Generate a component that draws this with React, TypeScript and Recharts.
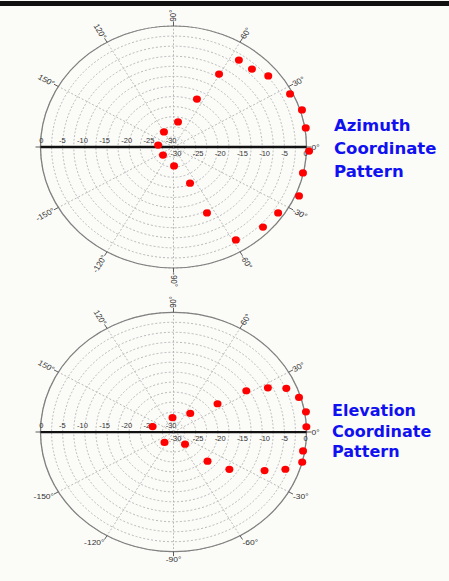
import { RadarChart, Radar, PolarGrid, PolarAngleAxis, PolarRadiusAxis } from "recharts";

// azimuth pattern: angle in degrees (0 = right, counter-clockwise), level in dB
const AZ_ANGLE = [55.6, 47.5, 39.5, 60.4, 26.6, 17.6, 9, -1.9, -12.4, -23.2, -34.7, -44.5, -58.6, -65.2, -67.4, -88.5, -140, 172, 120, 80.7, 66];
const AZ_DB = [-3.9, -3.8, -2.3, -9.2, -0.6, 0.4, 0.2, 0.6, -0.1, 0.8, -1.3, -1.7, -3.0, -12.0, -20.3, -25.3, -26.9, -26.5, -25.7, -23.7, -17.0];

// elevation pattern
const EL_ANGLE = [32.2, 27.5, 23.3, 17, 9.6, 2.5, -9.2, -14.6, -20.3, -25.2, -36.6, -43.6, -49.5, -128, 164, 93.6, 51, 35.5];
const EL_DB = [-10.6, -6.0, -2.3, -0.4, 0.3, 0, -0.4, 0, -3.1, -7.3, -14.3, -19.4, -26.0, -26.7, -25.1, -26.4, -24.0, -17.8];

// rings every 2.5 dB, labels on the 5 dB ones
const DB_TICKS = [-30, -27.5, -25, -22.5, -20, -17.5, -15, -12.5, -10, -7.5, -5, -2.5, 0];
const ANGLE_TICKS = [-180, -150, -120, -90, -60, -30, 0, 30, 60, 90, 120, 150, 180];
const DB_DOMAIN = [-30, 0];
const ANGLE_DOMAIN = [-180, 180];

const azData = AZ_ANGLE.map((a, i) => ({ angle: a, db: AZ_DB[i] }));
const elData = EL_ANGLE.map((a, i) => ({ angle: a, db: EL_DB[i] }));

const CX = 173.5;
const CY = 160;
const R = 133;

const isMajor = (v: number) => Math.abs(v - Math.round(v / 5) * 5) < 0.01;
const fmt = (v: number) => String(Math.round(v));

function angleTick(leftText: string, flatLower: boolean) {
  return (p: any) => {
    const a = Math.round(Number(p.payload.value));
    if (a === -180) return <g />;
    const label = a === 180 ? leftText : `${a}°`;
    const style = { fontSize: 8.5, fill: "#333", fontFamily: "Arial, sans-serif" };
    if (flatLower && a < 0) {
      const c = Math.cos((a * Math.PI) / 180);
      const anchor = c > 0.2 ? "start" : c < -0.2 ? "end" : "middle";
      return (
        <text x={p.x} y={p.y + 6} textAnchor={anchor} {...style}>
          {label}
        </text>
      );
    }
    const right = Math.abs(a) <= 90;
    const rot = right ? -a : 180 - a;
    return (
      <text
        x={p.x}
        y={p.y}
        dy="0.35em"
        textAnchor={right ? "start" : "end"}
        transform={`rotate(${rot}, ${p.x}, ${p.y})`}
        {...style}
      >
        {label}
      </text>
    );
  };
}

const rightTick = (p: any) =>
  isMajor(Number(p.payload.value)) ? (
    <text x={p.x - 3} y={p.y + 10} fontSize={7.5} fill="#333" fontFamily="Arial, sans-serif" textAnchor="start">
      {fmt(Number(p.payload.value))}
    </text>
  ) : (
    <g />
  );

const leftTick = (p: any) =>
  isMajor(Number(p.payload.value)) ? (
    <text x={p.x + 3} y={p.y - 4} fontSize={7.5} fill="#333" fontFamily="Arial, sans-serif" textAnchor="end">
      {fmt(Number(p.payload.value))}
    </text>
  ) : (
    <g />
  );

function PolarPlot({ data, top, sy, leftText, flatLower }: any) {
  return (
    <div
      style={{
        position: "absolute",
        left: 0,
        top: top - CY,
        width: 449,
        height: 320,
        transform: `scaleY(${sy})`,
        transformOrigin: `0px ${CY}px`,
      }}
    >
      <RadarChart width={449} height={320} cx={CX} cy={CY} outerRadius={R} startAngle={-180} endAngle={180} data={data}>
        <PolarGrid gridType="circle" stroke="#b4b4b4" strokeDasharray="2 2" />
        <PolarAngleAxis
          dataKey="angle"
          type="number"
          domain={ANGLE_DOMAIN}
          ticks={ANGLE_TICKS as any}
          tickCount={13}
          axisLineType="circle"
          axisLine={{ stroke: "#808080", strokeWidth: 1.3 }}
          tickLine={{ stroke: "#555" }}
          tickSize={5}
          tick={angleTick(leftText, flatLower)}
        />
        <PolarRadiusAxis
          angle={0}
          type="number"
          domain={DB_DOMAIN}
          ticks={DB_TICKS as any}
          tickCount={13}
          allowDataOverflow
          axisLine={{ stroke: "#111", strokeWidth: 2.5 }}
          tick={rightTick}
        />
        <PolarRadiusAxis
          radiusAxisId="left"
          angle={180}
          type="number"
          domain={DB_DOMAIN}
          ticks={DB_TICKS as any}
          tickCount={13}
          allowDataOverflow
          axisLine={{ stroke: "#111", strokeWidth: 2.5 }}
          tick={leftTick}
        />
        <Radar
          dataKey="db"
          stroke="none"
          fill="none"
          dot={{ r: 4, fill: "#ff0000", stroke: "none", fillOpacity: 1 }}
          isAnimationActive={false}
        />
      </RadarChart>
    </div>
  );
}

export default function App() {
  return (
    <div
      style={{
        position: "absolute",
        left: 0,
        top: 0,
        width: 449,
        height: 581,
        background: "#fbfbf8",
        overflow: "hidden",
      }}
    >
      <PolarPlot data={azData} top={147} sy={0.91} leftText="180°" flatLower={false} />
      <PolarPlot data={elData} top={432} sy={0.9} leftText="-180°" flatLower={true} />
      <div style={{ position: "absolute", left: 0, top: 1, width: 449, height: 5, background: "#111", zIndex: 2 }} />
      <div
        style={{
          position: "absolute",
          left: 334,
          top: 113.5,
          color: "#1010f0",
          fontFamily: "'DejaVu Sans', sans-serif",
          fontWeight: "bold",
          fontSize: 16.5,
          lineHeight: "23px",
        }}
      >
        Azimuth
        <br />
        Coordinate
        <br />
        Pattern
      </div>
      <div
        style={{
          position: "absolute",
          left: 332,
          top: 401,
          color: "#1010f0",
          fontFamily: "'DejaVu Sans', sans-serif",
          fontWeight: "bold",
          fontSize: 16,
          lineHeight: "20.7px",
        }}
      >
        Elevation
        <br />
        Coordinate
        <br />
        Pattern
      </div>
    </div>
  );
}
